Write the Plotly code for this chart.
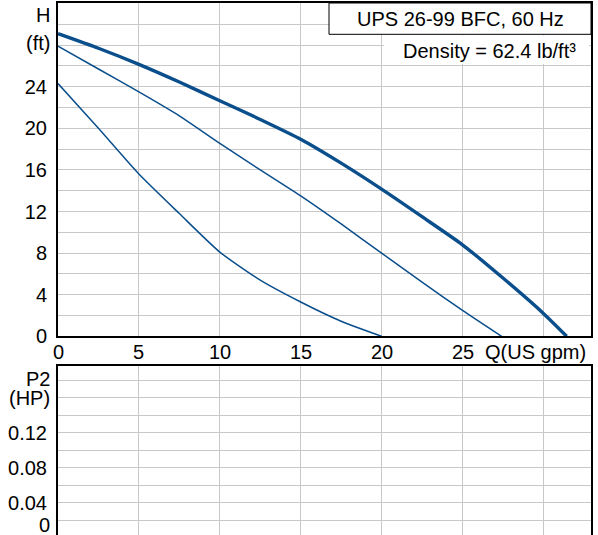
import plotly.graph_objects as go

# ---- data ----
q_max = [0, 2.5, 5, 7.5, 10, 12.5, 15, 17.5, 20, 22.5, 25, 27.5, 30, 31.44]
h_max = [29.1, 27.7, 26.15, 24.45, 22.65, 20.85, 18.95, 16.65, 14.15, 11.5, 8.8, 5.6, 2.2, 0]

q_mid = [0, 2.5, 5, 7.5, 10, 12.5, 15, 17.5, 20, 22.5, 25, 27.42]
h_mid = [27.9, 25.7, 23.5, 21.2, 18.55, 16.0, 13.5, 10.8, 8.0, 5.2, 2.5, 0]

q_min = [0, 2.5, 5, 7.5, 10, 12.5, 15, 17.5, 20]
h_min = [24.3, 20.0, 15.6, 11.8, 8.1, 5.4, 3.3, 1.45, 0]

x_ticks = [0, 5, 10, 15, 20, 25, 30]
x_labels = ["0", "5", "10", "15", "20", "25"]
h_grid = list(range(0, 32, 2))
h_ticktext = [str(v) if (v % 4 == 0 and v <= 24) else "" for v in h_grid]
p_grid = [0.02, 0.04, 0.06, 0.08, 0.10, 0.12, 0.14, 0.16, 0.18]
p_ticktext = ["", "0.04", "", "0.08", "", "0.12", "", "", ""]

title_text = "UPS 26-99 BFC, 60 Hz"
density_text = "Density = 62.4 lb/ft³"

# ---- layout geometry ----
W, H = 598, 535
ML, MR, MT, MB = 58, 7, 3, 0
PW, PH = W - ML - MR, H - MT - MB


def px_x(px):
    return (px - ML) / PW


def px_y(py):
    return (H - MB - py) / PH


FONT = "Liberation Sans, Arial, sans-serif"
FS = 20
BLUE = "#0a4f8c"
GRID = "#c8c8c8"

fig = go.Figure()
fig.add_trace(go.Scatter(x=q_max, y=h_max, mode="lines", line=dict(color=BLUE, width=3.4, shape="spline", smoothing=0.6), xaxis="x", yaxis="y", showlegend=False, hoverinfo="skip"))
fig.add_trace(go.Scatter(x=q_mid, y=h_mid, mode="lines", line=dict(color=BLUE, width=1.5, shape="spline", smoothing=0.6), xaxis="x", yaxis="y", showlegend=False, hoverinfo="skip"))
fig.add_trace(go.Scatter(x=q_min, y=h_min, mode="lines", line=dict(color=BLUE, width=1.5, shape="spline", smoothing=0.6), xaxis="x", yaxis="y", showlegend=False, hoverinfo="skip"))
fig.add_trace(go.Scatter(x=[None], y=[None], xaxis="x2", yaxis="y2", showlegend=False))

xr = [0, PW / 16.18]
axis_common = dict(showgrid=True, gridcolor=GRID, gridwidth=1, zeroline=False,
                   showline=True, linecolor="black", linewidth=2,
                   ticks="", automargin=False, tickfont=dict(family=FONT, size=FS, color="black"))

fig.update_layout(
    width=W, height=H,
    margin=dict(l=ML, r=MR, t=MT, b=MB, autoexpand=False),
    paper_bgcolor="white", plot_bgcolor="white",
    font=dict(family=FONT, size=FS, color="black"),
    xaxis=dict(domain=[0, 1], range=xr, anchor="y", tickmode="array", tickvals=x_ticks,
               showticklabels=False, mirror=True, **axis_common),
    yaxis=dict(domain=[px_y(336.3), 1], range=[0, (336.3 - 3) / 10.4], anchor="x",
               tickmode="array", tickvals=h_grid, ticktext=h_ticktext, ticklabelstandoff=5,
               mirror=True, **axis_common),
    xaxis2=dict(domain=[0, 1], range=xr, anchor="y2", side="top", tickmode="array", tickvals=x_ticks,
                showticklabels=False, mirror=False, **axis_common),
    yaxis2=dict(domain=[0, px_y(366)], range=[(537.5 - 535) / 875, 0.18 + 14 / 875], anchor="x2",
                tickmode="array", tickvals=p_grid, ticktext=p_ticktext, ticklabelstandoff=5,
                mirror=True, **axis_common),
)

# title box
fig.add_shape(type="rect", xref="paper", yref="paper", x0=px_x(329), x1=1, y0=px_y(34.3), y1=1,
              line=dict(color="black", width=1), fillcolor="white", layer="above")
fig.add_shape(type="rect", xref="paper", yref="paper", x0=px_x(384), x1=px_x(589), y0=px_y(64), y1=px_y(35.5),
              line=dict(width=0), fillcolor="white", layer="above")

ann = []
ann.append(dict(text=title_text, x=px_x(460), y=px_y(18.5), xanchor="center", yanchor="middle"))
ann.append(dict(text=density_text, x=px_x(578), y=px_y(51), xanchor="right", yanchor="middle"))
ann.append(dict(text="H", x=px_x(52), y=px_y(15), xanchor="right", yanchor="middle"))
ann.append(dict(text="(ft)", x=px_x(52), y=px_y(42.5), xanchor="right", yanchor="middle"))
ann.append(dict(text="Q(US gpm)", x=px_x(588), y=px_y(352), xanchor="right", yanchor="middle"))
ann.append(dict(text="P2", x=px_x(52), y=px_y(379.5), xanchor="right", yanchor="middle"))
ann.append(dict(text="(HP)", x=px_x(52), y=px_y(398), xanchor="right", yanchor="middle"))
ann.append(dict(text="0", x=px_x(52), y=px_y(524.5), xanchor="right", yanchor="middle"))
for a in ann:
    a.update(xref="paper", yref="paper", showarrow=False, font=dict(family=FONT, size=FS, color="black"))
    fig.add_annotation(**a)

# x tick labels placed on the data axis
for v, t in zip(x_ticks, x_labels):
    fig.add_annotation(text=t, x=v, xref="x", y=px_y(352), yref="paper", xanchor="center",
                       yanchor="middle", showarrow=False, font=dict(family=FONT, size=FS, color="black"))

fig.write_html(
    "out.html",
    config={"displayModeBar": False},
    post_script="document.body.style.margin='0';document.body.style.overflow='hidden';",
)
